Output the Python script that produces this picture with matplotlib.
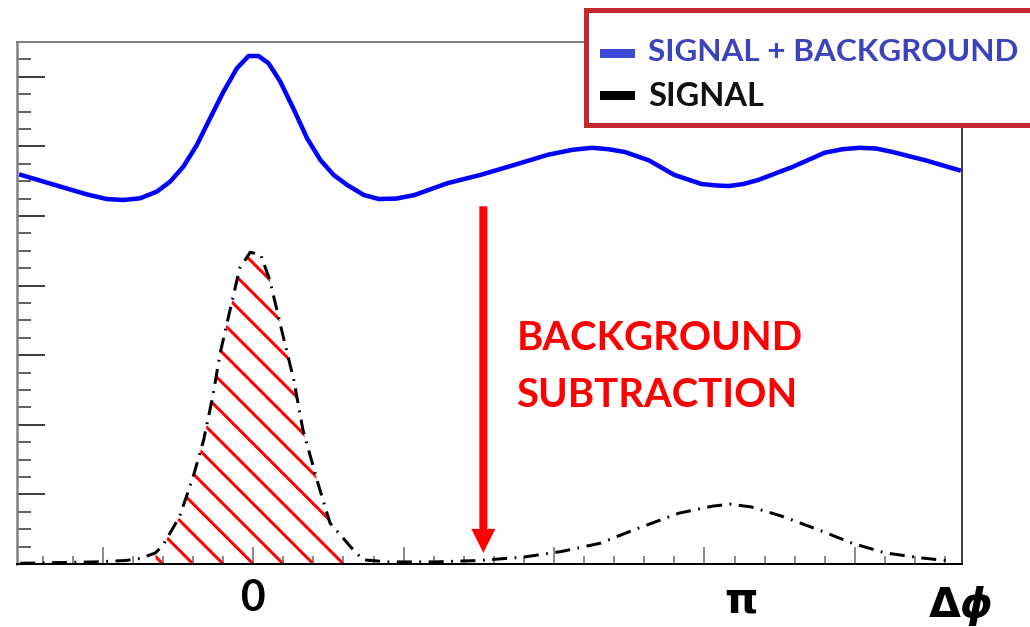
import matplotlib
matplotlib.use("Agg")
import matplotlib.pyplot as plt
from matplotlib.patches import Rectangle
from matplotlib.ticker import MultipleLocator
import numpy as np

# Señal + fondo (curva azul): delta phi en rad, altura en unidades de eje
bg_x = [-1.542, -1.333, -1.109, -0.975, -0.865, -0.753, -0.642, -0.553, -0.465,
        -0.375, -0.287, -0.198, -0.109, -0.031, 0.035, 0.102, 0.180, 0.269, 0.358,
        0.447, 0.535, 0.625, 0.735, 0.835, 0.95, 1.07, 1.29, 1.51, 1.73, 1.96, 2.12,
        2.25, 2.36, 2.47, 2.63, 2.80, 2.98, 3.07, 3.16, 3.26, 3.36, 3.58, 3.80,
        3.92, 4.03, 4.14, 4.25, 4.47, 4.69]
bg_y = [5.589, 5.455, 5.312, 5.244, 5.230, 5.254, 5.349, 5.493, 5.708,
        6.020, 6.404, 6.786, 7.122, 7.299, 7.299, 7.194, 6.930, 6.534, 6.116,
        5.803, 5.589, 5.445, 5.302, 5.244, 5.25, 5.30, 5.47, 5.59, 5.73, 5.88, 5.95,
        5.98, 5.96, 5.92, 5.80, 5.59, 5.46, 5.44, 5.43, 5.46, 5.52, 5.70, 5.91,
        5.96, 5.98, 5.97, 5.92, 5.80, 5.66]

# Señal sola (curva negra discontinua)
sig_x = [-1.55, -1.30, -1.05, -0.85, -0.75, -0.65, -0.60, -0.49, -0.40, -0.33,
         -0.27, -0.22, -0.15, -0.09, -0.02, 0.05, 0.11, 0.20, 0.27, 0.33, 0.43,
         0.51, 0.65, 0.73, 0.90, 1.20, 1.50, 1.80, 2.05, 2.31, 2.53, 2.83, 3.05,
         3.17, 3.31, 3.51, 3.76, 3.98, 4.20, 4.43, 4.65]
sig_y = [0.01, 0.02, 0.03, 0.05, 0.08, 0.16, 0.27, 0.68, 1.25, 1.78,
         2.40, 3.03, 3.69, 4.25, 4.48, 4.44, 4.08, 3.26, 2.64, 1.93, 1.16,
         0.59, 0.24, 0.06, 0.03, 0.03, 0.05, 0.10, 0.18, 0.30, 0.49, 0.73, 0.83,
         0.86, 0.82, 0.69, 0.49, 0.30, 0.16, 0.09, 0.04]

legend_labels = ["SIGNAL + BACKGROUND", "SIGNAL"]
axis_labels = ["0", "π"]

DPI = 180
W, H = 1030, 627
fig = plt.figure(figsize=(W / DPI, H / DPI), dpi=DPI)
ax = fig.add_axes([17 / W, 1 - 564 / H, (962 - 17) / W, (564 - 42) / H])

def px(p):
    # pixeles -> puntos
    return p * 72 / DPI

XMIN, XMAX, YMAX = -np.pi / 2, 3 * np.pi / 2, 7.5
ax.set_xlim(XMIN, XMAX)
ax.set_ylim(0, YMAX)

sx = np.array(sig_x)
sy = np.array(sig_y)
mask = (sx >= -0.66) & (sx <= 0.66)

# Rayado rojo a 45 grados (en pixeles), recortado a la zona bajo el pico
poly = ax.fill_between(sx[mask], 0, sy[mask], facecolor='none', edgecolor='none')
clip = poly.get_paths()[0]
kx = (962 - 17) / (XMAX - XMIN)     # px por radian
ky = (564 - 42) / YMAX              # px por unidad
for x0 in np.arange(-0.6, 2.6, 0.2):
    xs = np.array([x0 - 2.6, x0])
    ys = (x0 - xs) * kx / ky
    ln, = ax.plot(xs, ys, color='red', lw=px(3), solid_capstyle='butt', zorder=1)
    ln.set_clip_path(clip, ax.transData)

ax.plot(sig_x, sig_y, color='black', lw=px(3), dashes=(5, 2.5, 0.6, 2.5), zorder=2)
ax.plot(bg_x, bg_y, color='#0000ff', lw=px(4.5), solid_joinstyle='round', zorder=3)

ax.xaxis.set_major_locator(MultipleLocator(1))
ax.xaxis.set_minor_locator(MultipleLocator(0.2))
ax.yaxis.set_major_locator(MultipleLocator(1))
ax.yaxis.set_minor_locator(MultipleLocator(0.25))
ax.tick_params(axis='y', which='major', direction='in', length=px(28), width=px(1.5),
               color='black', labelleft=False)
ax.tick_params(axis='y', which='minor', direction='in', length=px(14), width=px(1.5),
               color='#333333')
ax.tick_params(axis='x', which='major', direction='in', length=px(17), width=px(1.5),
               color='#666666', labelbottom=False)
ax.tick_params(axis='x', which='minor', direction='in', length=px(8), width=px(1.5),
               color='#666666')

ax.spines['left'].set_color('#808080')
ax.spines['left'].set_linewidth(px(2.5))
ax.spines['top'].set_color('#808080')
ax.spines['top'].set_linewidth(px(2))
ax.spines['bottom'].set_color('black')
ax.spines['bottom'].set_linewidth(px(2))
ax.spines['right'].set_color('black')
ax.spines['right'].set_linewidth(px(1.5))

# Flecha y texto
ax.annotate('', xy=(1.53, 0.16), xytext=(1.53, 5.14),
            arrowprops=dict(facecolor='red', edgecolor='none', width=px(8),
                            headwidth=px(24), headlength=px(24), shrink=0))
font = ['Lato', 'DejaVu Sans']
ax.text(1.75, 3.08, 'BACKGROUND', color='red', fontsize=16, fontweight='bold',
        family=font, va='baseline', ha='left')
ax.text(1.75, 2.26, 'SUBTRACTION', color='red', fontsize=16, fontweight='bold',
        family=font, va='baseline', ha='left')

# Etiquetas del eje x
tr = ax.get_xaxis_transform()
ax.text(0, -0.065, axis_labels[0], transform=tr, ha='center', va='center',
        fontsize=17, fontweight='bold', family=font, clip_on=False)
ax.text(np.pi + 0.1, -0.07, axis_labels[1], transform=tr, ha='center', va='center',
        fontsize=17, fontweight='bold', family=['DejaVu Sans'], clip_on=False)
ax.text(4.70, -0.08, r'$\mathbf{\Delta}\boldsymbol{\phi}$', transform=tr,
        ha='center', va='center', fontsize=16.5, clip_on=False)

# Leyenda dibujada a mano
fig.add_artist(Rectangle((586 / W, 1 - 125 / H), (1045 - 586) / W, (125 - 10) / H,
                         transform=fig.transFigure, facecolor='white',
                         edgecolor='#c1272d', lw=px(5), zorder=10))
fig.add_artist(Rectangle((600 / W, 1 - 58 / H), 35 / W, 9 / H,
                         transform=fig.transFigure, facecolor='#3b4ad4',
                         edgecolor='none', zorder=11))
fig.add_artist(Rectangle((600 / W, 1 - 100 / H), 35 / W, 9 / H,
                         transform=fig.transFigure, facecolor='black',
                         edgecolor='none', zorder=11))
fig.text(648 / W, 1 - 61 / H, legend_labels[0], color='#3d44bb', fontsize=12.6,
         fontweight='bold', family=font, va='baseline', zorder=12)
fig.text(648 / W, 1 - 106 / H, legend_labels[1], color='#111111', fontsize=13,
         fontweight='bold', family=font, va='baseline', zorder=12)

fig.savefig('out.png', dpi=DPI)
